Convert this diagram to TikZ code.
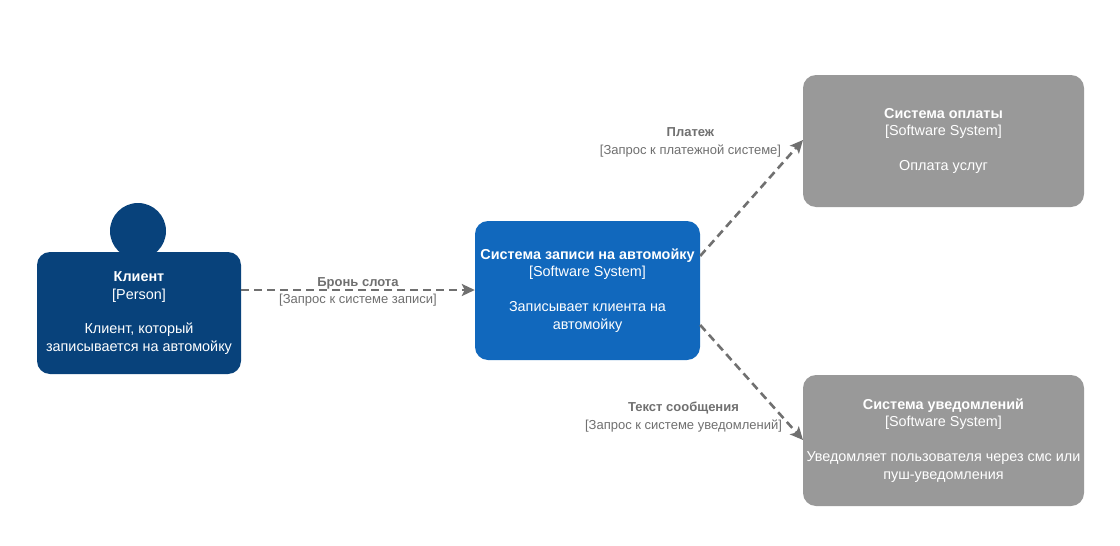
\documentclass[tikz,border=0pt]{standalone}
\usepackage{fontspec}
\setmainfont{Liberation Sans}
\usepackage{tikz}
\usetikzlibrary{positioning, arrows.meta}
\definecolor{person}{HTML}{08427B}
\definecolor{system}{HTML}{1168BD}
\definecolor{external}{HTML}{999999}
\definecolor{relation}{HTML}{707070}

\begin{document}
\begin{tikzpicture}[x=1pt, y=-1pt,
    box/.style={rectangle, rounded corners=13pt, text=white, align=center, font=\fontsize{14.4}{17.3}\selectfont},
    arrow/.style={-{Stealth[length=13pt, width=12pt, inset=3pt]}, relation, line width=2.6pt, dash pattern=on 8pt off 5pt},
    rel/.style={align=center, text=relation, font=\fontsize{13}{17.5}\selectfont}
]
\useasboundingbox[fill=white] (0,0) rectangle (1120,546);

\node[circle, fill=person, minimum size=56pt] (head) at (138,231) {};
\node[box, fill=person, minimum width=204pt, minimum height=122pt] (client) at (139,313)
    {\textbf{Клиент}\\{[Person]}\\[17.5pt]Клиент, который\\записывается на автомойку};
\node[box, fill=system, minimum width=225pt, minimum height=139pt] (carwash) at (587.5,290.5)
    {\textbf{Система записи на автомойку}\\{[Software System]}\\[17.5pt]Записывает клиента на\\автомойку};
\node[box, fill=external, minimum width=281pt, minimum height=132pt] (payment) at (943.5,141)
    {\textbf{Система оплаты}\\{[Software System]}\\[17.5pt]Оплата услуг};
\node[box, fill=external, minimum width=281pt, minimum height=131pt] (notify) at (943.5,440.5)
    {\textbf{Система уведомлений}\\{[Software System]}\\[17.5pt]Уведомляет пользователя через смс или\\пуш-уведомления};

\coordinate (payend) at (803,140);
\coordinate (notend) at (803,440);

\draw[arrow] (client.east |- 0,290) -- (carwash.west |- 0,290);
\draw[arrow] (carwash.east |- 0,256) -- (payend);
\draw[arrow] (carwash.east |- 0,325) -- (notend);

\node[rel] (booklbl) at (358,292) {\textbf{Бронь слота}\\{[Запрос к системе записи]}};
\node[rel] (paylbl) at (690.5,142.5) {\textbf{Платеж}\\{[Запрос к платежной системе]}};
\node[rel] (notlbl) at (683.5,417) {\textbf{Текст сообщения}\\{[Запрос к системе уведомлений]}};

\end{tikzpicture}
\end{document}
